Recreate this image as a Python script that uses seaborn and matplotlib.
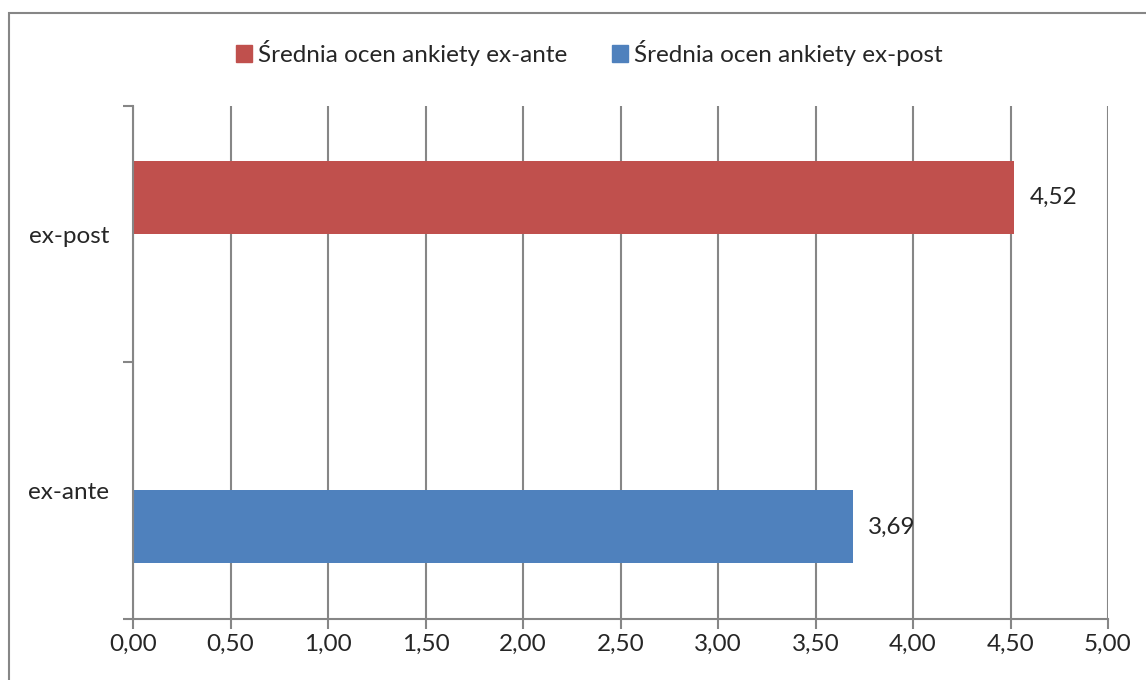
import matplotlib
matplotlib.use("Agg")
import matplotlib.pyplot as plt
import matplotlib.patches as mpatches
import seaborn as sns
import pandas as pd
import numpy as np

categories = ["ex-post", "ex-ante"]
series_names = ["Średnia ocen ankiety ex-ante", "Średnia ocen ankiety ex-post"]
series_red = [4.52, np.nan]
series_blue = [np.nan, 3.69]
x_ticks = [0.0, 0.5, 1.0, 1.5, 2.0, 2.5, 3.0, 3.5, 4.0, 4.5, 5.0]
colors = ["#C0504D", "#4F81BD"]

sns.set_theme(style="white")
plt.rcParams['font.family'] = ['Lato', 'DejaVu Sans']
FS = 17.5

df = pd.DataFrame({
    "kategoria": categories * 2,
    "seria": [series_names[0]] * 2 + [series_names[1]] * 2,
    "wartosc": series_red + series_blue,
})

fig = plt.figure(figsize=(11.46, 6.8), dpi=100)
ax = fig.add_axes([133/1146, 1 - 618.5/680, (1108-133)/1146, (618.5-106)/680])

sns.barplot(data=df, y="kategoria", x="wartosc", hue="seria", order=categories,
            hue_order=series_names, palette=colors, orient="h", width=0.57,
            dodge=True, ax=ax, legend=False, saturation=1, linewidth=0)

grid_color = "#868686"
ax.set_xlim(0, 5)
ax.set_ylim(1.5, -0.5)
ax.set_xticks(x_ticks)
ax.set_xticklabels([f"{v:.2f}".replace(".", ",") for v in x_ticks], fontsize=FS)
ax.xaxis.grid(True, color=grid_color, linewidth=1.5)
ax.set_axisbelow(True)
ax.set_xlabel("")
ax.set_ylabel("")

ax.set_yticks([-0.5, 0.5, 1.5])
ax.set_yticklabels([])
ax.set_yticks([0, 1], minor=True)
ax.set_yticklabels(categories, minor=True, fontsize=FS)
ax.tick_params(axis="y", which="minor", length=0, pad=17)
ax.tick_params(axis="y", which="major", length=7, width=1.5, color=grid_color, left=True)
ax.tick_params(axis="x", which="major", length=7, width=1.5, color=grid_color, bottom=True, pad=4)

for s in ["top", "right"]:
    ax.spines[s].set_visible(False)
for s in ["left", "bottom"]:
    ax.spines[s].set_color(grid_color)
    ax.spines[s].set_linewidth(1.5)

for cont in ax.containers:
    labels = ["" if np.isnan(v) else f"{v:.2f}".replace(".", ",") for v in cont.datavalues]
    ax.bar_label(cont, labels=labels, padding=11, fontsize=FS)

handles = [mpatches.Patch(color=c, label=n) for c, n in zip(colors, series_names)]
fig.legend(handles=handles, loc="center", bbox_to_anchor=(0.514, 1 - 53/680), ncol=2,
           frameon=False, fontsize=FS, handlelength=0.66, handleheight=0.66,
           handletextpad=0.25, columnspacing=1.85)

border = mpatches.Rectangle((8.5/1146, -0.1), 1.2, 1.1 - 13.5/680, transform=fig.transFigure,
                            fill=False, edgecolor="#868686", linewidth=1.5)
fig.patches.append(border)

fig.savefig("out.png", dpi=100)
